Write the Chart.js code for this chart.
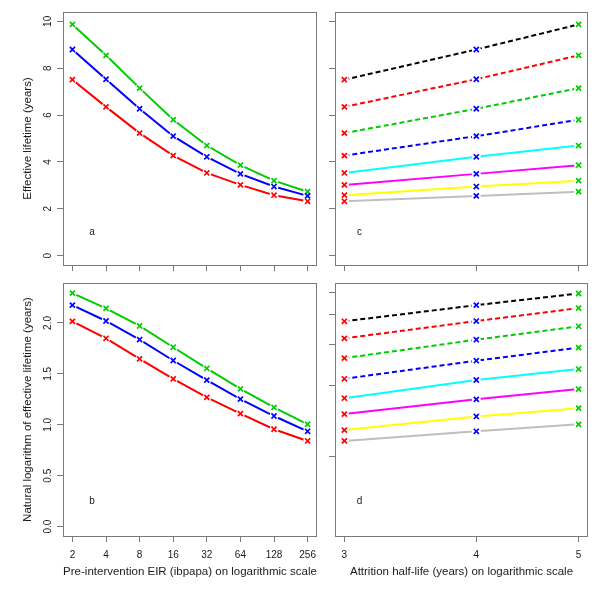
<!DOCTYPE html>
<html>
<head>
<meta charset="utf-8">
<script src="https://cdn.jsdelivr.net/npm/chart.js@4"></script>
<style>
  body { margin: 0; background: #fff; }
  #wrap { position: relative; width: 600px; height: 600px; }
  #wrap canvas { position: absolute; left: 0; top: 0; }
</style>
</head>
<body>
<div id="wrap">
  <canvas id="chartA" width="600" height="600"></canvas>
  <canvas id="chartB" width="600" height="600"></canvas>
  <canvas id="chartC" width="600" height="600"></canvas>
  <canvas id="chartD" width="600" height="600"></canvas>
</div>
<script>
// pre-intervention EIR (x of panels a, b)
var eir = [2, 4, 8, 16, 32, 64, 128, 256];
// attrition half-life in years (x of panels c, d)
var halfLife = [3, 4, 5];

// effective lifetime (years), one array per half-life
var life3 = [7.51, 6.35, 5.23, 4.27, 3.53, 3.02, 2.58, 2.32];
var life4 = [8.80, 7.53, 6.27, 5.10, 4.22, 3.49, 2.95, 2.55];
var life5 = [9.87, 8.55, 7.15, 5.80, 4.70, 3.86, 3.20, 2.73];

// natural log of effective lifetime
var logLife3 = [2.015, 1.849, 1.647, 1.451, 1.269, 1.109, 0.956, 0.841];
var logLife4 = [2.175, 2.019, 1.836, 1.631, 1.438, 1.252, 1.086, 0.936];
var logLife5 = [2.293, 2.143, 1.970, 1.761, 1.553, 1.353, 1.171, 1.005];

var yTicksLife = [0, 2, 4, 6, 8, 10];
var yTicksLog = [0, 0.5, 1, 1.5, 2];

var halfColors = ['#FF0000', '#0000FF', '#00CD00'];
var eirColors = ['#000000', '#FF0000', '#00CD00', '#0000FF', '#00FFFF', '#FF00FF', '#FFFF00', '#BEBEBE'];
var eirDashed = [true, true, true, true, false, false, false, false];

var FONT = 'Liberation Sans, Arial, Helvetica, sans-serif';
var TEXT = '#1a1a1a';
var AXIS = '#7a7a7a';

// cut the line around each point, like R's type = "b"
var gapPlugin = {
    id: 'gaps',
    beforeDatasetDraw: function (chart, args) {
        var ds = chart.data.datasets[args.index];
        if (!ds.gap) return;
        var ctx = chart.ctx;
        ctx.save();
        ctx.beginPath();
        ctx.rect(0, 0, chart.width, chart.height);
        args.meta.data.forEach(function (pt) {
            ctx.moveTo(pt.x + ds.gap, pt.y);
            ctx.arc(pt.x, pt.y, ds.gap, 0, Math.PI * 2);
        });
        ctx.clip('evenodd');
    },
    afterDatasetDraw: function (chart, args) {
        if (chart.data.datasets[args.index].gap) chart.ctx.restore();
    }
};

// box round the plot region and the panel letter
var framePlugin = {
    id: 'frame',
    afterDraw: function (chart, args, opts) {
        var a = chart.chartArea;
        var ctx = chart.ctx;
        ctx.save();
        ctx.strokeStyle = AXIS;
        ctx.lineWidth = 1;
        ctx.strokeRect(a.left + 0.5, a.top + 0.5, a.right - a.left - 1, a.bottom - a.top);
        if (opts.letter) {
            ctx.fillStyle = TEXT;
            ctx.font = '10px ' + FONT;
            ctx.textAlign = 'center';
            ctx.textBaseline = 'middle';
            ctx.fillText(opts.letter,
                chart.scales.x.getPixelForValue(opts.at[0]),
                chart.scales.y.getPixelForValue(opts.at[1]));
        }
        ctx.restore();
    }
};

function pts(xs, ys) {
    return xs.map(function (x, i) { return { x: x, y: ys[i] }; });
}

function lineSet(data, color, dashed) {
    return {
        data: data,
        showLine: true,
        borderColor: color,
        borderWidth: 2,
        borderDash: dashed ? [5, 3] : [],
        pointRadius: 0,
        gap: 4.5,
        order: 1
    };
}

function pointSet(data, color) {
    return {
        data: data,
        showLine: false,
        pointStyle: 'crossRot',
        pointRadius: 3.6,
        pointBorderWidth: 1.7,
        pointBorderColor: color,
        pointBackgroundColor: color,
        order: 0
    };
}

function xAxis(ticks, min, max, labels, height, title) {
    return {
        type: 'logarithmic',
        min: min,
        max: max,
        bounds: 'data',
        afterBuildTicks: function (s) { s.ticks = ticks.map(function (v) { return { value: v }; }); },
        afterFit: function (s) { s.height = height; },
        ticks: {
            autoSkip: false,
            maxRotation: 0,
            padding: 7,
            color: TEXT,
            font: { family: FONT, size: 10 },
            callback: function (v) { return labels ? String(v) : ''; }
        },
        grid: { drawOnChartArea: false, drawTicks: true, tickLength: 6, color: AXIS },
        border: { display: false },
        title: {
            display: !!title,
            text: title || '',
            color: TEXT,
            font: { family: FONT, size: 11.5 },
            padding: { top: 0, bottom: 21 }
        }
    };
}

function yAxis(type, ticks, min, max, fmt, pad, title) {
    return {
        type: type,
        min: min,
        max: max,
        bounds: 'data',
        afterBuildTicks: function (s) { s.ticks = ticks.map(function (v) { return { value: v }; }); },
        afterFit: function (s) { s.width = 63; },
        ticks: {
            autoSkip: false,
            minRotation: 90,
            maxRotation: 90,
            crossAlign: 'center',
            padding: pad,
            color: TEXT,
            font: { family: FONT, size: 10 },
            callback: function (v) { return fmt ? fmt(v) : ''; }
        },
        grid: { drawOnChartArea: false, drawTicks: true, tickLength: 6, color: AXIS },
        border: { display: false },
        title: {
            display: !!title,
            text: title || '',
            color: TEXT,
            font: { family: FONT, size: 11.5 },
            padding: { top: 21, bottom: 0 }
        }
    };
}

function makeChart(id, datasets, scales, padding, letter) {
    return new Chart(document.getElementById(id), {
        type: 'scatter',
        data: { datasets: datasets },
        options: {
            responsive: false,
            animation: false,
            devicePixelRatio: 1,
            layout: { padding: padding },
            scales: scales,
            plugins: {
                legend: { display: false },
                tooltip: { enabled: false },
                frame: letter
            }
        },
        plugins: [gapPlugin, framePlugin]
    });
}

var eirMin = 1.647, eirMax = 310.8;
var hlMin = 2.9393, hlMax = 5.1032;

// panel a
var lifeByHalf = [life3, life4, life5];
var dsA = [];
lifeByHalf.forEach(function (ys, k) { dsA.push(pointSet(pts(eir, ys), halfColors[k])); });
lifeByHalf.forEach(function (ys, k) { dsA.push(lineSet(pts(eir, ys), halfColors[k], false)); });
makeChart('chartA', dsA, {
    x: xAxis(eir, eirMin, eirMax, false, 335, null),
    y: yAxis('linear', yTicksLife, -0.4, 10.4, function (v) { return String(v); }, 3.4, 'Effective lifetime (years)')
}, { left: 0, top: 12, right: 283, bottom: 0 }, { letter: 'a', at: [3, 1] });

// panel b
var logByHalf = [logLife3, logLife4, logLife5];
var dsB = [];
logByHalf.forEach(function (ys, k) { dsB.push(pointSet(pts(eir, ys), halfColors[k])); });
logByHalf.forEach(function (ys, k) { dsB.push(lineSet(pts(eir, ys), halfColors[k], false)); });
makeChart('chartB', dsB, {
    x: xAxis(eir, eirMin, eirMax, true, 64, 'Pre-intervention EIR (ibpapa) on logarithmic scale'),
    y: yAxis('linear', yTicksLog, -0.092, 2.392, function (v) { return v.toFixed(1); }, 2, 'Natural logarithm of effective lifetime (years)')
}, { left: 0, top: 283, right: 283, bottom: 0 }, { letter: 'b', at: [3, 0.25] });

// panels c and d: one line per EIR across the half-lives
function byEir() {
    var ds = [];
    halfLife.forEach(function (h, k) {
        ds.push(pointSet(eir.map(function (e, i) { return { x: h, y: lifeByHalf[k][i] }; }), halfColors[k]));
    });
    eir.forEach(function (e, i) {
        var data = halfLife.map(function (h, k) { return { x: h, y: lifeByHalf[k][i] }; });
        ds.push(lineSet(data, eirColors[i], eirDashed[i]));
    });
    return ds;
}

makeChart('chartC', byEir(), {
    x: xAxis(halfLife, hlMin, hlMax, false, 335, null),
    y: yAxis('linear', yTicksLife, -0.4, 10.4, null, 3, null)
}, { left: 272, top: 12, right: 12, bottom: 0 }, { letter: 'c', at: [3.1, 1] });

makeChart('chartD', byEir(), {
    x: xAxis(halfLife, hlMin, hlMax, true, 64, 'Attrition half-life (years) on logarithmic scale'),
    y: yAxis('logarithmic', [2, 4, 6, 8, 10], 0.912, 10.94, null, 3, null)
}, { left: 272, top: 283, right: 12, bottom: 0 }, { letter: 'd', at: [3.1, 1.284] });
</script>
</body>
</html>
